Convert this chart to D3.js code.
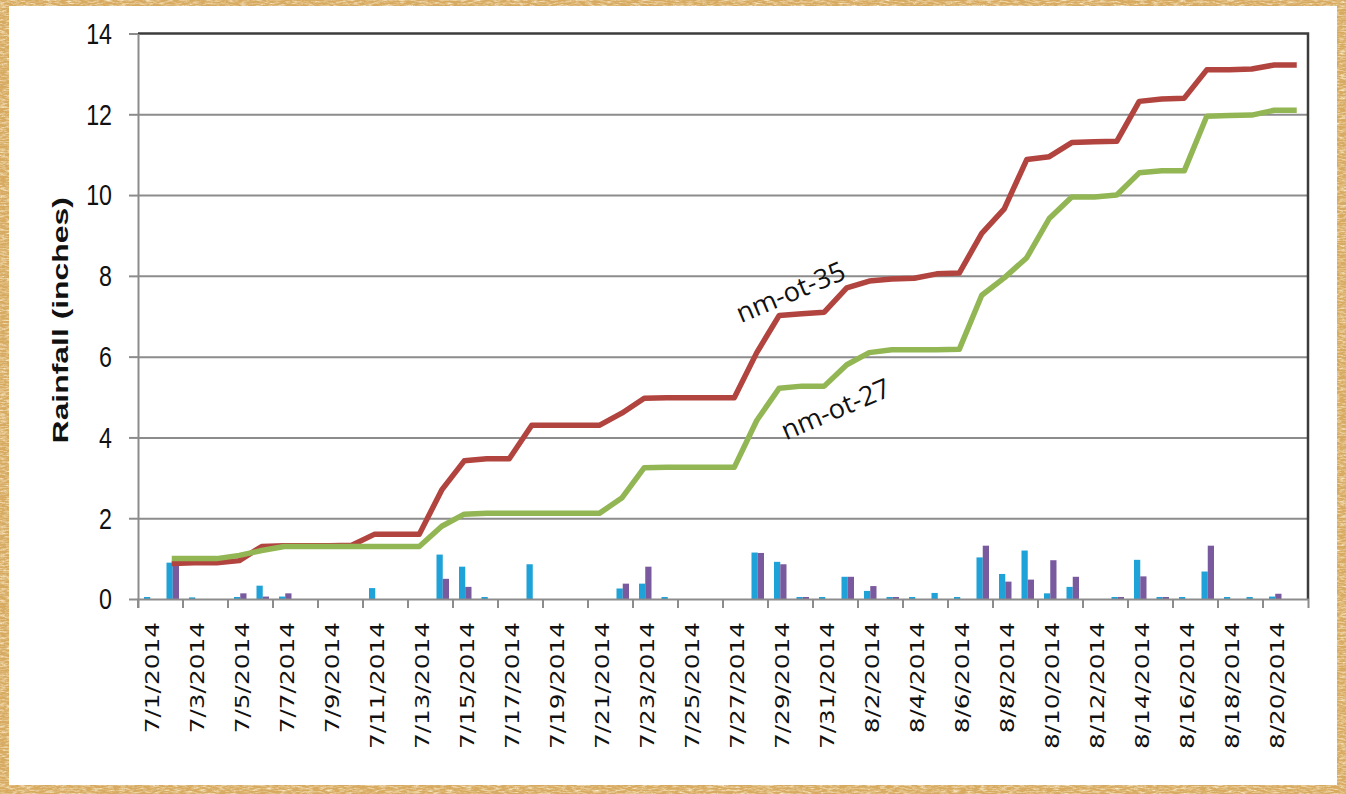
<!DOCTYPE html>
<html>
<head>
<meta charset="utf-8">
<script src="https://cdn.jsdelivr.net/npm/d3@7"></script>
<style>
body { margin: 0; background: #fff; }
svg { display: block; }
</style>
</head>
<body>
<div id="chart"></div>
<script>
// categories: one per day
const dates = ["7/1/2014","7/2/2014","7/3/2014","7/4/2014","7/5/2014","7/6/2014","7/7/2014","7/8/2014",
	"7/9/2014","7/10/2014","7/11/2014","7/12/2014","7/13/2014","7/14/2014","7/15/2014","7/16/2014",
	"7/17/2014","7/18/2014","7/19/2014","7/20/2014","7/21/2014","7/22/2014","7/23/2014","7/24/2014",
	"7/25/2014","7/26/2014","7/27/2014","7/28/2014","7/29/2014","7/30/2014","7/31/2014","8/1/2014",
	"8/2/2014","8/3/2014","8/4/2014","8/5/2014","8/6/2014","8/7/2014","8/8/2014","8/9/2014",
	"8/10/2014","8/11/2014","8/12/2014","8/13/2014","8/14/2014","8/15/2014","8/16/2014","8/17/2014",
	"8/18/2014","8/19/2014","8/20/2014","8/21/2014"];

// daily rainfall (bars)
const daily_35 = [0.05,0.9,0.04,0,0.05,0.33,0.06,0,0,0,0.27,0,0,1.1,0.8,0.05,0,0.86,0,0,0,0.26,0.38,0.05,
	0,0,0,1.15,0.92,0.05,0.05,0.55,0.2,0.05,0.05,0.15,0.05,1.03,0.62,1.2,0.14,0.3,0,0.05,0.97,0.05,
	0.05,0.68,0.05,0.05,0.06,0];
const daily_27 = [0,0.88,0,0,0.14,0.06,0.14,0,0,0,0,0,0,0.5,0.3,0,0,0,0,0,0,0.38,0.8,0,
	0,0,0,1.14,0.86,0.05,0,0.55,0.32,0.05,0,0,0,1.32,0.43,0.48,0.96,0.55,0,0.05,0.56,0.05,
	0,1.32,0,0,0.13,0];

// cumulative rainfall (lines)
const total_35 = [null,0.88,0.9,0.9,0.95,1.3,1.32,1.32,1.32,1.33,1.6,1.6,1.6,2.7,3.42,3.47,3.47,4.3,4.3,4.3,
	4.3,4.6,4.97,4.98,4.98,4.98,4.98,6.1,7.02,7.06,7.1,7.7,7.87,7.92,7.94,8.05,8.07,9.05,9.66,10.88,
	10.95,11.3,11.32,11.33,12.32,12.38,12.4,13.1,13.1,13.12,13.22,13.22];
const total_27 = [null,1.0,1.0,1.0,1.08,1.2,1.3,1.3,1.3,1.3,1.3,1.3,1.3,1.8,2.1,2.12,2.12,2.12,2.12,2.12,
	2.12,2.5,3.25,3.26,3.26,3.26,3.26,4.42,5.22,5.27,5.27,5.8,6.1,6.17,6.17,6.17,6.18,7.52,7.95,8.45,
	9.42,9.95,9.95,10.0,10.55,10.6,10.6,11.95,11.97,11.98,12.1,12.1];

const y_ticks = [0, 2, 4, 6, 8, 10, 12, 14];
const y_title = "Rainfall (inches)";

const W = 1346, H = 794;
const plot = { left: 138, right: 1308, top: 33.5, bottom: 599 };
const colors = { "35": "#1ea2d7", "27": "#7a5a9e", line35: "#b2443f", line27: "#93b655" };

const x_scale = d3.scaleBand().domain(dates).range([plot.left, plot.right]).padding(0);
const sub_scale = d3.scaleBand().domain(["35", "27"])
	.range([0, x_scale.bandwidth()]).paddingInner(0).paddingOuter(0.8);
const y_scale = d3.scaleLinear().domain([0, 14]).range([plot.bottom, plot.top]);

const svg = d3.select("#chart").append("svg")
	.attr("width", W)
	.attr("height", H);

// parchment border
const defs = svg.append("defs");
const paper = defs.append("filter").attr("id", "paper")
	.attr("x", 0).attr("y", 0).attr("width", "100%").attr("height", "100%");
paper.append("feTurbulence")
	.attr("type", "fractalNoise").attr("baseFrequency", "0.15 0.6")
	.attr("numOctaves", 3).attr("seed", 7);
paper.append("feColorMatrix").attr("type", "matrix")
	.attr("values", "0 0 0 0 0.95  0 0 0 0 0.82  0 0 0 0 0.58  2.2 0 0 0 -0.9");
const grain = defs.append("filter").attr("id", "grain")
	.attr("x", 0).attr("y", 0).attr("width", "100%").attr("height", "100%");
grain.append("feTurbulence")
	.attr("type", "fractalNoise").attr("baseFrequency", "0.9")
	.attr("numOctaves", 1).attr("seed", 3);
grain.append("feColorMatrix").attr("type", "matrix")
	.attr("values", "0 0 0 0 0.6  0 0 0 0 0.42  0 0 0 0 0.18  0 2.6 0 0 -1.4");

svg.append("rect").attr("width", W).attr("height", H).attr("fill", "#d8aa5f");
svg.append("rect").attr("width", W).attr("height", H).attr("filter", "url(#paper)");
svg.append("rect").attr("width", W).attr("height", H).attr("filter", "url(#grain)");
svg.append("rect")
	.attr("x", 9).attr("y", 6)
	.attr("width", W - 18).attr("height", H - 15)
	.attr("fill", "#fff");

// gridlines
const grid = svg.append("g")
	.attr("transform", `translate(${plot.left},0)`)
	.call(d3.axisLeft(y_scale).tickValues(y_ticks.slice(1, -1))
		.tickSize(-(plot.right - plot.left)).tickFormat(""));
grid.select(".domain").remove();
grid.selectAll("line").attr("stroke", "#8c8c8c").attr("stroke-width", 2);

// bars
const rows = dates.map((d, i) => ({ date: d, vals: [{ k: "35", v: daily_35[i] }, { k: "27", v: daily_27[i] }] }));

svg.append("g").attr("class", "bars")
	.selectAll("g")
	.data(rows)
	.join("g")
	.attr("transform", d => `translate(${x_scale(d.date) + 1},0)`)
	.selectAll("rect")
	.data(d => d.vals)
	.join("rect")
	.attr("x", d => sub_scale(d.k))
	.attr("width", sub_scale.bandwidth())
	.attr("y", d => y_scale(d.v))
	.attr("height", d => y_scale(0) - y_scale(d.v))
	.attr("fill", d => colors[d.k]);

// cumulative lines
const line = d3.line()
	.defined(d => d.v != null)
	.x(d => x_scale(d.date) + x_scale.bandwidth() / 2)
	.y(d => y_scale(d.v));

[["line35", total_35], ["line27", total_27]].forEach(([k, vals]) => {
	svg.append("path")
		.datum(dates.map((d, i) => ({ date: d, v: vals[i] })))
		.attr("fill", "none")
		.attr("stroke", colors[k])
		.attr("stroke-width", 5.5)
		.attr("stroke-linejoin", "round")
		.attr("d", line);
});

// frame: top and right dark
svg.append("path")
	.attr("d", `M${plot.left},${plot.top}H${plot.right}V${plot.bottom}`)
	.attr("fill", "none")
	.attr("stroke", "#3c3c3c")
	.attr("stroke-width", 2.5);

// y axis
const y_axis = svg.append("g")
	.attr("transform", `translate(${plot.left},0)`)
	.call(d3.axisLeft(y_scale).tickValues(y_ticks).tickSize(9).tickSizeOuter(0));
y_axis.select(".domain").attr("stroke", "#8c8c8c").attr("stroke-width", 2);
y_axis.selectAll(".tick line").attr("stroke", "#8c8c8c").attr("stroke-width", 2);
y_axis.selectAll(".tick text")
	.attr("font-family", "'Liberation Sans', Arial, sans-serif")
	.attr("font-size", 29)
	.attr("fill", "#111")
	.attr("x", -26 / 0.8)
	.attr("dy", "0.34em")
	.attr("transform", "scale(0.8,1)");

// x axis
const x_axis = svg.append("g")
	.attr("transform", `translate(0,${plot.bottom})`)
	.call(d3.axisBottom(x_scale)
		.tickValues(dates.filter((d, i) => i % 2 === 0))
		.tickSize(9).tickSizeOuter(9));
x_axis.select(".domain").attr("stroke", "#8c8c8c").attr("stroke-width", 2);
x_axis.selectAll(".tick line")
	.attr("x1", -x_scale.bandwidth() / 2)
	.attr("x2", -x_scale.bandwidth() / 2)
	.attr("stroke", "#8c8c8c").attr("stroke-width", 2);
x_axis.selectAll(".tick text")
	.attr("font-family", "'DejaVu Sans', Verdana, sans-serif")
	.attr("font-size", 20)
	.attr("fill", "#111")
	.attr("text-anchor", "end")
	.attr("x", -23 / 1.24)
	.attr("y", 0)
	.attr("dy", "0.5em")
	.attr("transform", "rotate(-90) scale(1.24,1)");

// y title
svg.append("text")
	.attr("transform", `translate(60,${(plot.top + plot.bottom) / 2 + 4}) rotate(-90) scale(1.45,1)`)
	.attr("text-anchor", "middle")
	.attr("dy", "0.35em")
	.attr("font-family", "'Liberation Sans', Arial, sans-serif")
	.attr("font-weight", "bold")
	.attr("font-size", 22)
	.attr("fill", "#111")
	.text(y_title);

// series labels
const labels = [
	{ text: "nm-ot-35", i: 29, v: 7.6 },
	{ text: "nm-ot-27", i: 31, v: 4.7 }
];
svg.append("g").selectAll("text")
	.data(labels)
	.join("text")
	.attr("transform", d => `translate(${x_scale(dates[d.i])},${y_scale(d.v)}) rotate(-23)`)
	.attr("text-anchor", "middle")
	.attr("dy", "0.35em")
	.attr("font-family", "'Open Sans', sans-serif")
	.attr("font-size", 27)
	.attr("fill", "#111")
	.text(d => d.text);
</script>
</body>
</html>
